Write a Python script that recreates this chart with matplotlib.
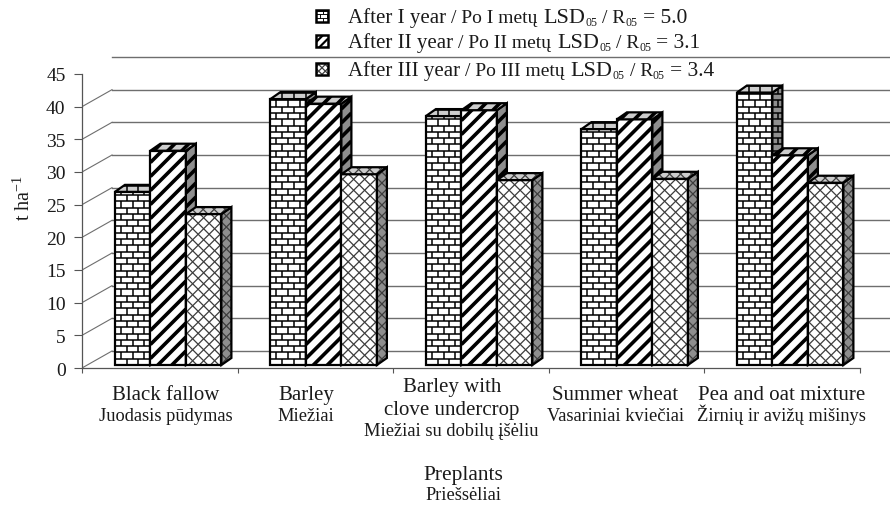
import numpy as np
import matplotlib.pyplot as plt
from matplotlib.patches import Polygon
from matplotlib.collections import LineCollection
from matplotlib import transforms

plt.rcParams['font.family'] = ['Liberation Serif', 'DejaVu Serif']
plt.rcParams['mathtext.default'] = 'regular'

# данные (t/ha)
cat_en = [["Black fallow"], ["Barley"], ["Barley with", "clove undercrop"],
          ["Summer wheat"], ["Pea and oat mixture"]]
cat_lt = ["Juodasis pūdymas", "Miežiai", "Miežiai su dobilų įšėliu",
          "Vasariniai kviečiai", "Žirnių ir avižų mišinys"]
after_1 = [26.5, 40.7, 38.1, 36.1, 41.7]
after_2 = [32.8, 40.0, 39.0, 37.6, 32.1]
after_3 = [23.1, 29.2, 28.3, 28.5, 27.9]
years = ["I", "II", "III"]
lsd = ["5.0", "3.1", "3.4"]
yticks = list(range(0, 50, 5))

# геометрия в пикселях
W, H = 893, 506
X0, Y0 = 82, 369
SX, SY = 155.5, 294 / 45
WX, WY = 30 / SX, 17 / SY          # глубина стенки
DX, DY = 10 / SX, 7 / SY           # глубина столбика
BW = 35.5 / SX
BASE = 3 / SY
SHIFT = 0.054
kinds = ['brick', 'diag', 'cross']
TXT = '#1a1a1a'


def add_pattern(ax, clip, xy, kind, z, sx=SX, sy=SY, k=1.0):
    xy = np.asarray(xy)
    px = xy[:, 0] * sx
    py = xy[:, 1] * sy
    x0, x1, y0, y1 = px.min(), px.max(), py.min(), py.max()
    segs = []
    if kind == 'brick':
        h, bw = 6.3 * k, 11.8 * k
        n = int(np.ceil((y1 - y0) / h))
        for r in range(n + 1):
            yy = y0 + r * h
            segs.append([(x0, yy), (x1, yy)])
            xx = x0 + (r % 2) * bw / 2
            while xx < x1:
                if xx > x0 + 1:
                    segs.append([(xx, yy), (xx, yy + h)])
                xx += bw
        lw, col = 1.1 * k, 'black'
    elif kind == 'diag':
        s = 14 * k
        for c in np.arange(y0 - x1, y1 - x0 + s, s):
            segs.append([(x0, x0 + c), (x1, x1 + c)])
        lw, col = 2.6 * k, 'black'
    else:
        s = 11 * k
        for c in np.arange(y0 - x1, y1 - x0 + s, s):
            segs.append([(x0, x0 + c), (x1, x1 + c)])
        for c in np.arange(y0 + x0, y1 + x1 + s, s):
            segs.append([(x0, c - x0), (x1, c - x1)])
        lw, col = 0.9, '#3c3c3c'
    segs = [[(a / sx, b / sy) for a, b in seg] for seg in segs]
    lc = LineCollection(segs, colors=col, linewidths=lw, zorder=z)
    ax.add_collection(lc, autolim=False)
    lc.set_clip_path(clip)


def face(ax, xy, fc, kind, z, sx=SX, sy=SY, k=1.0, lw=1.6):
    poly = Polygon(xy, closed=True, facecolor=fc, edgecolor='none', zorder=z)
    ax.add_patch(poly)
    add_pattern(ax, poly, xy, kind, z + 0.05, sx, sy, k)
    ax.add_patch(Polygon(xy, closed=True, fill=False, edgecolor='black',
                         lw=lw, zorder=z + 0.08, joinstyle='miter'))


fig = plt.figure(figsize=(W / 100, H / 100), dpi=100)
ax = fig.add_axes([X0 / W, (H - Y0) / H, (890 - X0) / W, (Y0 - 57) / H])
xmax = -0.5 + (890 - X0) / SX
ymax = (Y0 - 57) / SY

# стенки и сетка
x = np.arange(len(cat_lt))
for v in yticks:
    ax.plot([-0.5 + WX, xmax], [v + WY, v + WY], color='#6e6e6e', lw=1.0, zorder=1)
    if v < 45:
        ax.plot([-0.5, -0.5 + WX], [v, v + WY], color='#6e6e6e', lw=0.8, zorder=1)

series = [after_1, after_2, after_3]
for j, vals in enumerate(series):
    bars = ax.bar(x + (j - 1) * BW + SHIFT, vals, width=BW, bottom=BASE,
                  color='white', edgecolor='none')
    for i, r in enumerate(bars):
        z = 10 + i * 5 + j * 1.0
        bx, by, bw_, bh = r.get_x(), r.get_y(), r.get_width(), r.get_height()
        front = [(bx, by), (bx + bw_, by), (bx + bw_, by + bh), (bx, by + bh)]
        side = [(bx + bw_, by), (bx + bw_ + DX, by + DY),
                (bx + bw_ + DX, by + bh + DY), (bx + bw_, by + bh)]
        top = [(bx, by + bh), (bx + DX, by + bh + DY),
               (bx + bw_ + DX, by + bh + DY), (bx + bw_, by + bh)]
        r.set_visible(False)
        face(ax, front, 'white', kinds[j], z)
        face(ax, side, '#8e8e8e', kinds[j], z + 0.3)
        face(ax, top, '#cdcdcd', kinds[j], z + 0.6)

ax.set_xlim(-0.5, xmax)
ax.set_ylim(0, ymax)
for s in ['top', 'right']:
    ax.spines[s].set_visible(False)
ax.spines['left'].set_bounds(0, 45)
ax.spines['bottom'].set_bounds(-0.5, 4.5)
for s in ['left', 'bottom']:
    ax.spines[s].set_color('#555555')
    ax.spines[s].set_linewidth(0.9)
ax.set_yticks(yticks)
ax.set_yticklabels([str(v) for v in yticks], fontsize=14, color=TXT)
ax.set_xticks(np.arange(-0.5, 5, 1))
ax.set_xticklabels([])
ax.tick_params(axis='y', length=5.8, width=0.8, color='#555555', pad=6)
ax.tick_params(axis='x', length=3.6, width=0.8, color='#555555')
ax.patch.set_alpha(0)

# подписи категорий
tr = transforms.blended_transform_factory(ax.transData, fig.transFigure)
nudge = [6, -9, -19, -11, 0]
for i in range(len(cat_lt)):
    xc = x[i] + nudge[i] / SX
    lines = cat_en[i]
    if len(lines) == 1:
        ys = [400]
        ylt = 421
    else:
        ys = [392, 415]
        ylt = 436
    for t, yb in zip(lines, ys):
        ax.text(xc, 1 - yb / H, t, transform=tr, ha='center', va='baseline',
                fontsize=15, color=TXT)
    ax.text(xc, 1 - ylt / H, cat_lt[i], transform=tr, ha='center', va='baseline',
            fontsize=13.2, color=TXT)

fig.text(463 / W, 1 - 480 / H, "Preplants", ha='center', va='baseline', fontsize=15.5, color=TXT)
fig.text(463 / W, 1 - 500 / H, "Priešsėliai", ha='center', va='baseline', fontsize=13.2, color=TXT)
fig.text(24 / W, 1 - 198 / H, "t ha$^{-1}$", rotation=90, ha='center', va='center',
         fontsize=14.5, color=TXT)

# легенда
kax = fig.add_axes([0, 0, 1, 1], zorder=20)
kax.set_xlim(0, W)
kax.set_ylim(0, H)
kax.axis('off')
renderer = fig.canvas.get_renderer()


def rich_line(xp, yb, pieces):
    for txt, size, rise, gap in pieces:
        xp += gap
        t = fig.text(xp / W, 1 - (yb - rise) / H, txt, fontsize=size,
                     va='baseline', ha='left', color=TXT, zorder=21)
        xp = t.get_window_extent(renderer=renderer).x1


rows_y = [23, 48, 76]
for j in range(3):
    yb = rows_y[j]
    kx, ky = 316, H - yb
    face(kax, [(kx, ky), (kx + 12, ky), (kx + 12, ky + 12), (kx, ky + 12)],
         'white', kinds[j], 21, sx=1, sy=1, k=0.6, lw=1.8)
    rich_line(348, yb, [
        ("After " + years[j] + " year", 15, 0, 0),
        ("/ Po " + years[j] + " metų", 14, 0, 5),
        ("LSD", 16, 0, 6),
        ("05", 8.5, -3, 0),
        ("/ R", 14, 0, 5),
        ("05", 8.5, -3, 0),
        ("= " + lsd[j], 15.5, 0, 5),
    ])

fig.savefig("out.png", dpi=100)
